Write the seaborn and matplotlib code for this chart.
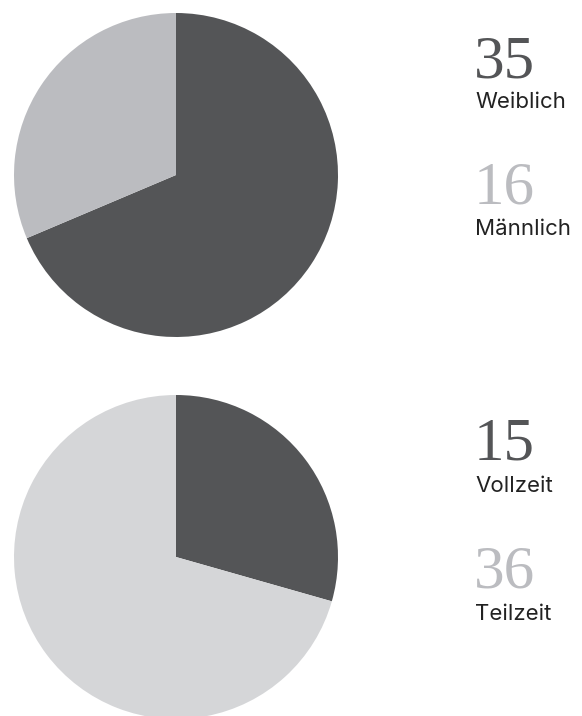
import matplotlib
matplotlib.use("Agg")
import matplotlib.pyplot as plt
import seaborn as sns

sns.set_theme(style="white")

# data
gender_labels = ["Weiblich", "Männlich"]
gender_values = [35, 16]
time_labels = ["Vollzeit", "Teilzeit"]
time_values = [15, 36]

dark = "#545557"
light_top = "#bbbcc0"
light_bottom = "#d5d6d8"
num_colors_top = [dark, light_top]
num_colors_bottom = [dark, light_top]

W, H = 582, 716
fig = plt.figure(figsize=(W / 100, H / 100), dpi=100)
fig.patch.set_facecolor("white")


def px_axes(cx, cy, r):
    return fig.add_axes([(cx - r) / W, 1 - (cy + r) / H, 2 * r / W, 2 * r / H])


def draw_pie(ax, values, colors):
    ax.pie(values, colors=colors, startangle=90, counterclock=False,
           radius=1, wedgeprops=dict(linewidth=0))
    ax.set_xlim(-1, 1)
    ax.set_ylim(-1, 1)
    ax.set_aspect("equal")
    ax.axis("off")


ax1 = px_axes(176, 175, 162)
draw_pie(ax1, gender_values, [dark, light_top])
ax2 = px_axes(176, 557, 162)
draw_pie(ax2, time_values, [dark, light_bottom])


def label(x, y_num, y_lab, value, text, color):
    fig.text(x / W, 1 - y_num / H, str(value), fontsize=44, color=color,
             family="Liberation Serif", va="baseline", ha="left")
    fig.text((x + 1) / W, 1 - y_lab / H, text, fontsize=16, color="#222222",
             family="Inter", va="baseline", ha="left")


label(474, 78, 108, gender_values[0], gender_labels[0], num_colors_top[0])
label(474, 204, 235, gender_values[1], gender_labels[1], num_colors_top[1])
label(474, 460, 492, time_values[0], time_labels[0], num_colors_bottom[0])
label(474, 587, 620, time_values[1], time_labels[1], num_colors_bottom[1])

fig.savefig("out.png", dpi=100, facecolor="white")
